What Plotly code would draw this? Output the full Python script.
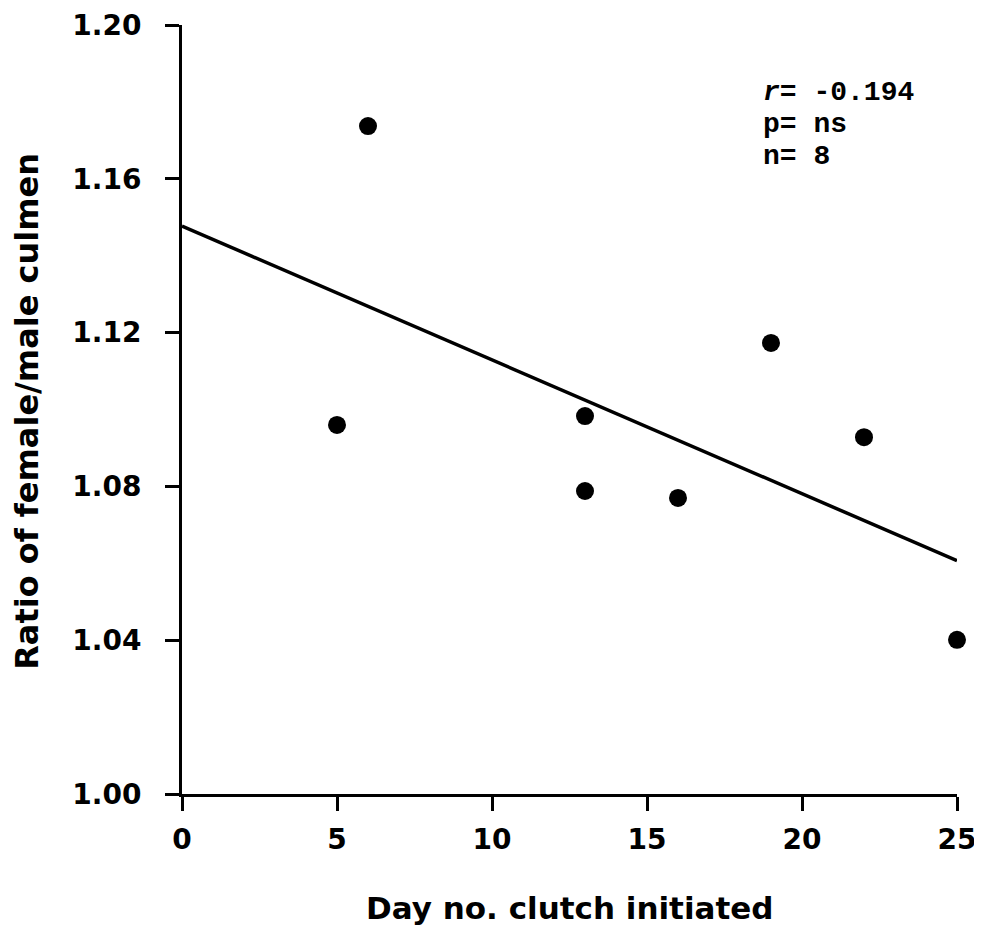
import plotly.graph_objects as go

# Data
day = [5, 6, 13, 13, 16, 19, 22, 25]
ratio = [1.096, 1.1737, 1.0983, 1.0788, 1.0770, 1.1173, 1.0928, 1.0401]

fit_intercept = 1.1477
fit_slope = -0.00348
fit_x = [0, 25]
fit_y = [fit_intercept + fit_slope * v for v in fit_x]

x_ticks = [0, 5, 10, 15, 20, 25]
y_ticks = [1.00, 1.04, 1.08, 1.12, 1.16, 1.20]
y_tick_text = ["1.00", "1.04", "1.08", "1.12", "1.16", "1.20"]

stats_lines = ["<i>r</i>= -0.194", "p= ns", "n= 8"]

TICK_FONT = dict(family="DejaVu Sans", size=28, color="black", weight="bold")

fig = go.Figure()
fig.add_trace(go.Scatter(x=fit_x, y=fit_y, mode="lines",
                         line=dict(color="black", width=3.5),
                         showlegend=False, hoverinfo="skip", cliponaxis=False))
fig.add_trace(go.Scatter(x=day, y=ratio, mode="markers",
                         marker=dict(color="black", size=18, symbol="circle",
                                     line=dict(width=0)),
                         showlegend=False, cliponaxis=False))

fig.update_xaxes(range=[0, 25], tickvals=x_ticks, ticks="outside", ticklen=14,
                 tickwidth=3, tickcolor="black", showline=True, linewidth=3,
                 linecolor="black", showgrid=False, zeroline=False,
                 tickfont=TICK_FONT, ticklabelstandoff=4, automargin=False)
fig.update_yaxes(range=[1.0, 1.2], tickvals=y_ticks, ticktext=y_tick_text,
                 ticks="outside", ticklen=14, tickwidth=3, tickcolor="black",
                 showline=True, linewidth=3, linecolor="black", showgrid=False,
                 zeroline=False, tickfont=TICK_FONT, ticklabelstandoff=18,
                 automargin=False)

annotations = []
for i, t in enumerate(stats_lines):
    annotations.append(dict(x=0.747, y=0.9116 - i * 0.0416, xref="paper", yref="paper",
                            text="<b>" + t + "</b>", showarrow=False,
                            xanchor="left", yanchor="middle",
                            font=dict(family="Liberation Mono", size=28, color="black")))
annotations.append(dict(x=0.5, y=-0.148, xref="paper", yref="paper",
                        text="<b>Day no. clutch initiated</b>", showarrow=False,
                        xanchor="center", yanchor="middle",
                        font=dict(family="DejaVu Sans", size=31, color="black")))
annotations.append(dict(x=-0.2, y=0.497, xref="paper", yref="paper",
                        text="<b>Ratio of female/male culmen</b>", showarrow=False,
                        textangle=-90, xanchor="center", yanchor="middle",
                        font=dict(family="DejaVu Sans", size=32, color="black")))

fig.update_layout(width=974, height=919,
                  margin=dict(l=174, r=25, t=17, b=133),
                  plot_bgcolor="white", paper_bgcolor="white",
                  annotations=annotations)

fig.write_html("out.html")
